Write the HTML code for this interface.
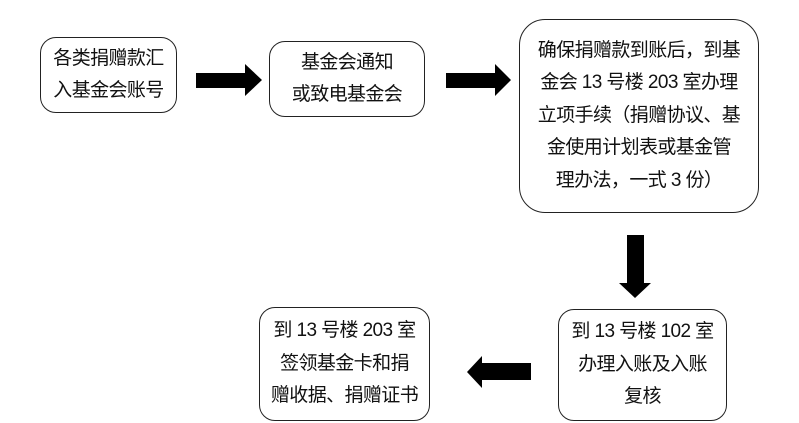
<!DOCTYPE html>
<html><head><meta charset="utf-8"><style>
body{margin:0;width:799px;height:423px;background:#fff;position:relative;overflow:hidden;font-family:"Liberation Sans","Noto Sans CJK SC",sans-serif;color:#111}
.b{position:absolute;border:1.5px solid #222;border-radius:16px;box-sizing:border-box;display:flex;align-items:center;justify-content:center;text-align:center;font-size:19px;line-height:32.5px;letter-spacing:-0.6px}
svg{position:absolute;left:0;top:0}
</style></head><body>
<div class="b" style="left:40px;top:37px;width:137px;height:76px">各类捐赠款汇<br>入基金会账号</div>
<div class="b" style="left:269px;top:41px;width:156px;height:76px">基金会通知<br>或致电基金会</div>
<div class="b" style="left:519px;top:19px;width:240px;height:194px;border-radius:26px">确保捐赠款到账后，到基<br>金会 13 号楼 203 室办理<br>立项手续（捐赠协议、基<br>金使用计划表或基金管<br>理办法，一式 3 份）</div>
<div class="b" style="left:558px;top:309px;width:169px;height:112px">到 13 号楼 102 室<br>办理入账及入账<br>复核</div>
<div class="b" style="left:259px;top:307px;width:171px;height:114px">到 13 号楼 203 室<br>签领基金卡和捐<br>赠收据、捐赠证书</div>
<svg width="799" height="423">
<polygon points="196,73 245,73 245,64 262,80 245,96 245,88 196,88" fill="#000"/>
<polygon points="446,73 495,73 495,64 511,80 495,96 495,88 446,88" fill="#000"/>
<polygon points="627,235 644,235 644,283 651,283 635,298 619,283 627,283" fill="#000"/>
<polygon points="531,363 482,363 482,356 467,372 482,388 482,380 531,380" fill="#000"/>
</svg>
</body></html>
